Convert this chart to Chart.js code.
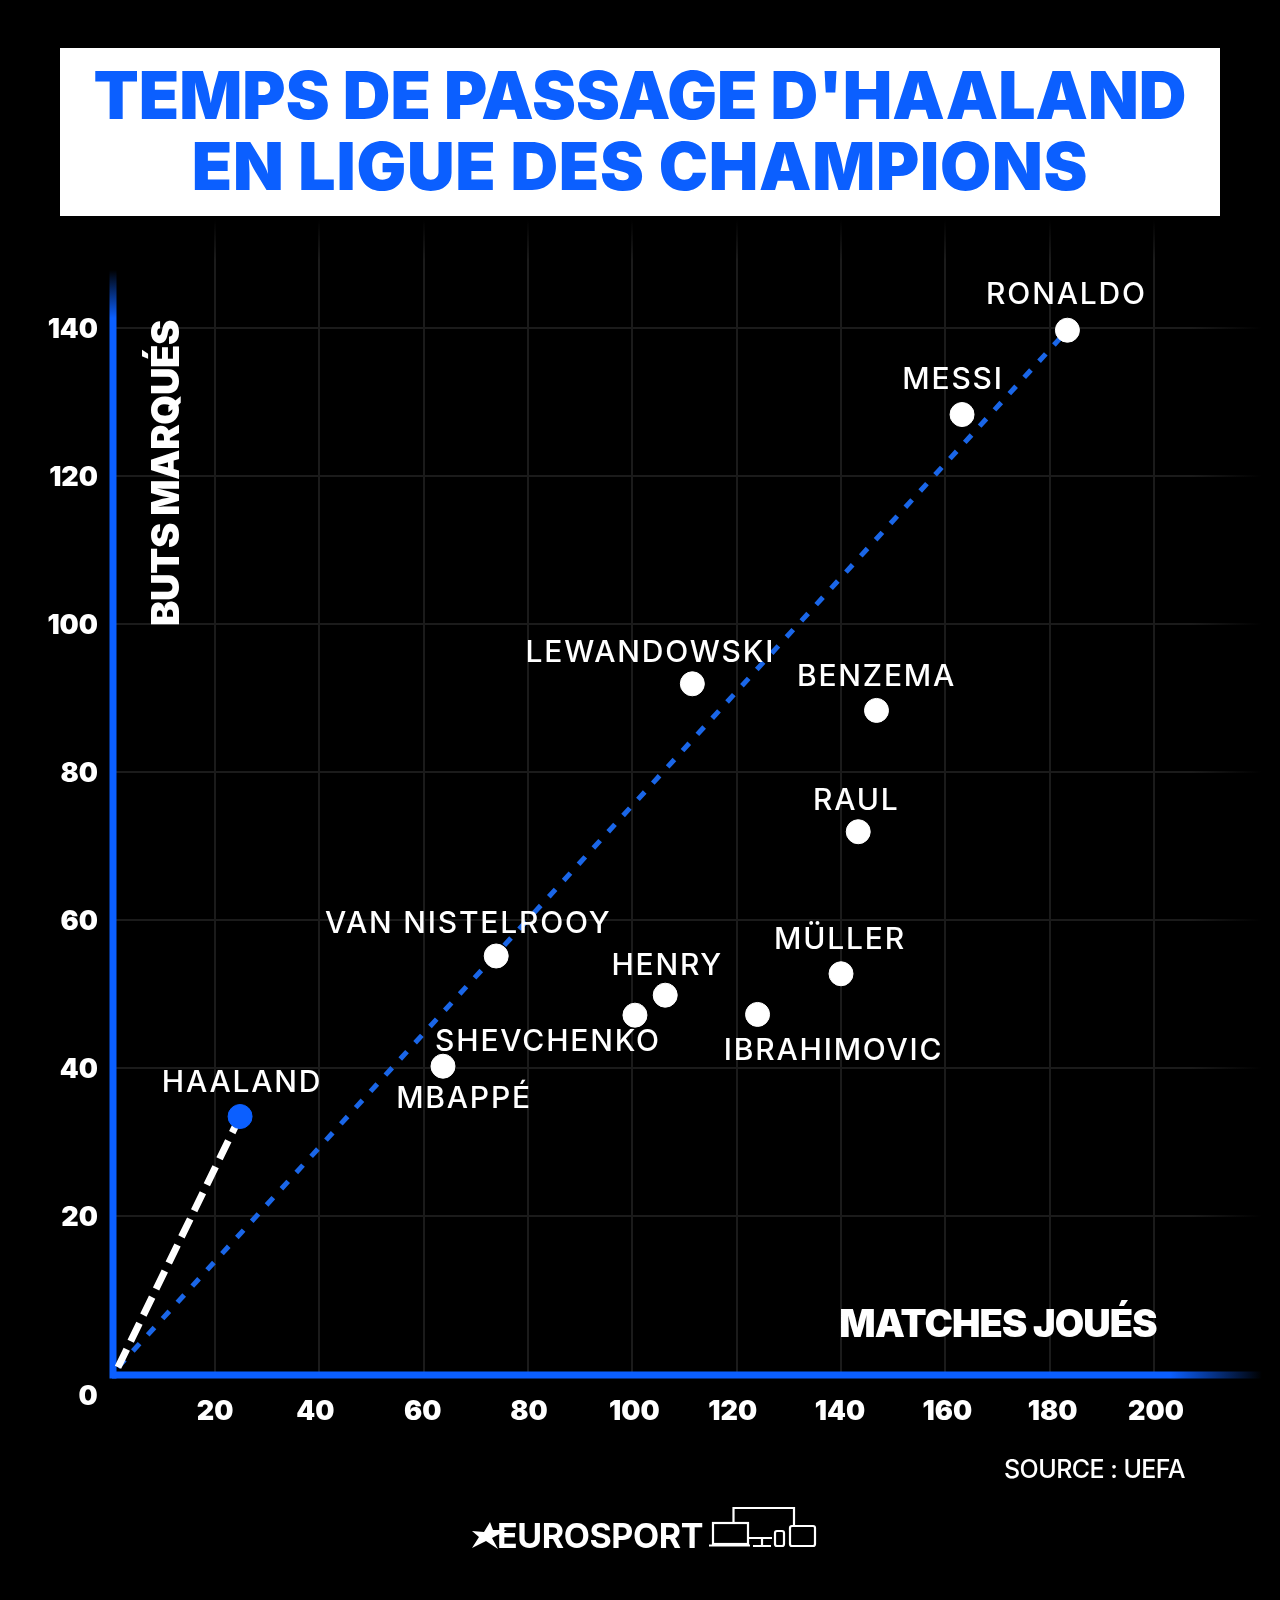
<!DOCTYPE html>
<html lang="fr"><head><meta charset="utf-8">
<script src="https://cdn.jsdelivr.net/npm/chart.js@4"></script>
<style>
html,body{margin:0;padding:0;background:#000;width:1280px;height:1600px;overflow:hidden}
#wrap{position:relative;width:1280px;height:1600px}
canvas{position:absolute;left:0;top:0}
#titlebox{position:absolute;left:60px;top:48px;width:1160px;height:168px;background:#fff;color:#0b5fff;font:900 66px/71px Inter,sans-serif;letter-spacing:0;text-align:center;white-space:nowrap;padding-top:12px;box-sizing:border-box}
#titlebox span{letter-spacing:.75px}
#source{position:absolute;left:1004px;top:1454px;color:#fff;font:500 25px/30px Inter,sans-serif;letter-spacing:-.55px;white-space:nowrap}
#brand{position:absolute;left:497px;top:1515px;color:#fff;font:700 34px/41px Inter,sans-serif;letter-spacing:-.4px;white-space:nowrap}
svg{position:absolute;left:0;top:0}
</style></head><body>
<div id="wrap">
<canvas id="c" width="1280" height="1600"></canvas>
<div id="titlebox">TEMPS DE PASSAGE D'HAALAND<br><span>EN LIGUE DES CHAMPIONS</span></div>
<div id="source">SOURCE : UEFA</div>
<div id="brand">EUROSPORT</div>
<svg width="1280" height="1600" fill="none" stroke="#fff" stroke-width="2.2">
<polygon points="507,1530 492,1538 498,1549 486,1541 472,1548 479,1537 472,1531 484,1532 490,1522 493,1530" fill="#fff" stroke="none"/>
<path d="M733.5 1522V1508H794V1526M748 1538H772M762 1538V1546M753 1546H771"/>
<rect x="713" y="1523" width="35" height="21"/><path d="M709 1545.500H750"/>
<rect x="775" y="1531" width="9" height="15" rx="2"/><rect x="790" y="1526" width="25" height="20" rx="2"/>
</svg>
</div>
<script>
const playerNames=["RONALDO","MESSI","LEWANDOWSKI","BENZEMA","RAUL","MÜLLER","IBRAHIMOVIC","HENRY","SHEVCHENKO","VAN NISTELROOY","MBAPPÉ"];
const matchesPlayed=[183.4,163.2,111.5,146.8,143.3,140,124,106.3,100.5,73.9,63.7];
const goalsScored=[139.7,128.3,91.9,88.3,71.9,52.7,47.2,49.8,47.1,55.1,40.2];
const haalandName="HAALAND";
const haalandMatches=[24.8];
const haalandGoals=[33.4];
const trendOrigin=[1.4,-0.5];
const xTickValues=[20,40,60,80,100,120,140,160,180,200];
const yTickValues=[20,40,60,80,100,120,140];
const xAxisTitle="MATCHES JOUÉS";
const yAxisTitle="BUTS MARQUÉS";
const zeroLabel="0";
// label offsets from the point centre, in pixels
const labelDx=[-1,-9,-42,0,-2,-1,76,2,-87,-28,21];
const labelDy=[-35,-35,-31,-33,-31,-34,37,-29,27,-32,33];
const haalandLabelOffset=[2,-34];
// hand nudges of the reference's tick labels, in pixels
const xTickNudge=[0,-4,-1,1,2,-4,-1,2,3,2];
const yTickNudge=2;

const BLUE="#0b5fff",GRID="#1b1b1b";
const pts=matchesPlayed.map((x,i)=>({x,y:goalsScored[i]}));
const fadeV=c=>{const a=c.chart.chartArea;const g=c.chart.ctx.createLinearGradient(0,a.top,0,a.top+40);g.addColorStop(0,"rgba(27,27,27,0)");g.addColorStop(1,GRID);return g;};
const fadeH=c=>{const a=c.chart.chartArea;const g=c.chart.ctx.createLinearGradient(a.right-70,0,a.right,0);g.addColorStop(0,GRID);g.addColorStop(1,"rgba(27,27,27,0)");return g;};

const deco={id:"deco",
 beforeDraw(ch){
  ch.scales.y.getLabelItems().forEach(it=>{it.options.translation=[it.options.translation[0],it.options.translation[1]+yTickNudge];});
  ch.scales.x.getLabelItems().forEach((it,i)=>{it.options.translation=[it.options.translation[0]+xTickNudge[i],it.options.translation[1]];});
 },
 beforeDatasetsDraw(ch){const{ctx,chartArea:a}=ch;ctx.save();
  ctx.lineWidth=7;
  let g=ctx.createLinearGradient(0,270,0,330);g.addColorStop(0,"rgba(11,95,255,0)");g.addColorStop(.8,BLUE);
  ctx.strokeStyle=g;ctx.beginPath();ctx.moveTo(a.left+1,270);ctx.lineTo(a.left+1,a.bottom+4.5);ctx.stroke();
  g=ctx.createLinearGradient(1170,0,a.right,0);g.addColorStop(0,BLUE);g.addColorStop(1,"rgba(11,95,255,0)");
  ctx.strokeStyle=g;ctx.beginPath();ctx.moveTo(a.left,a.bottom+1);ctx.lineTo(a.right,a.bottom+1);ctx.stroke();
  ctx.restore();},
 afterDatasetsDraw(ch){const{ctx,chartArea:a,scales:{x,y}}=ch;ctx.save();ctx.fillStyle="#fff";ctx.textBaseline="middle";
  ctx.font="500 30px Inter";ctx.letterSpacing="1.8px";ctx.textAlign="center";
  playerNames.forEach((n,i)=>ctx.fillText(n,x.getPixelForValue(matchesPlayed[i])+labelDx[i],y.getPixelForValue(goalsScored[i])+labelDy[i]));
  ctx.fillText(haalandName,x.getPixelForValue(haalandMatches[0])+haalandLabelOffset[0],y.getPixelForValue(haalandGoals[0])+haalandLabelOffset[1]);
  ctx.letterSpacing="0px";
  ctx.font="900 27px Inter";ctx.fillText(zeroLabel,88,a.bottom+23);
  ctx.font="900 38px Inter";ctx.letterSpacing="-.9px";ctx.fillText(xAxisTitle,998,1326);
  ctx.letterSpacing="-.3px";
  ctx.translate(168,473);ctx.rotate(-Math.PI/2);ctx.fillText(yAxisTitle,0,0);
  ctx.restore();}
};

new Chart(document.getElementById("c"),{
 type:"scatter",
 data:{datasets:[
  {label:"Haaland",data:[{x:haalandMatches[0],y:haalandGoals[0]}],backgroundColor:BLUE,borderColor:BLUE,pointRadius:12,order:1},
  {label:"Joueurs",data:pts,backgroundColor:"#fff",borderColor:"#fff",pointRadius:12,order:2},
  {label:"Rythme Haaland",type:"line",data:[{x:trendOrigin[0],y:trendOrigin[1]},{x:haalandMatches[0],y:haalandGoals[0]}],borderColor:"#fff",borderWidth:7,borderDash:[20,9],pointRadius:0,order:3},
  {label:"Rythme Ronaldo",type:"line",data:[{x:trendOrigin[0],y:trendOrigin[1]},{x:matchesPlayed[0],y:goalsScored[0]}],borderColor:"#1a66e8",borderWidth:5,borderDash:[10,12],pointRadius:0,order:4}
 ]},
 options:{responsive:false,animation:false,devicePixelRatio:1,
  layout:{padding:{top:220,right:18,left:0,bottom:0}},
  plugins:{legend:{display:false},tooltip:{enabled:false},title:{display:false}},
  scales:{
   x:{type:"linear",min:0.25,max:220.7,
    afterFit(s){s.height=226;},
    afterBuildTicks(s){s.ticks=xTickValues.map(value=>({value}));},
    border:{display:false},
    grid:{color:fadeV,lineWidth:2,drawTicks:false},
    ticks:{color:"#fff",font:{family:"Inter",size:27,weight:"900"},padding:22,maxRotation:0,autoSkip:false}},
   y:{type:"linear",min:-1.41,max:154.6,
    afterFit(s){s.width=112;},
    afterBuildTicks(s){s.ticks=yTickValues.map(value=>({value}));},
    border:{display:false},
    grid:{color:fadeH,lineWidth:2,drawTicks:false},
    ticks:{color:"#fff",font:{family:"Inter",size:27,weight:"900"},padding:14,autoSkip:false}}
  }
 },
 plugins:[deco]
});
</script>
</body></html>
